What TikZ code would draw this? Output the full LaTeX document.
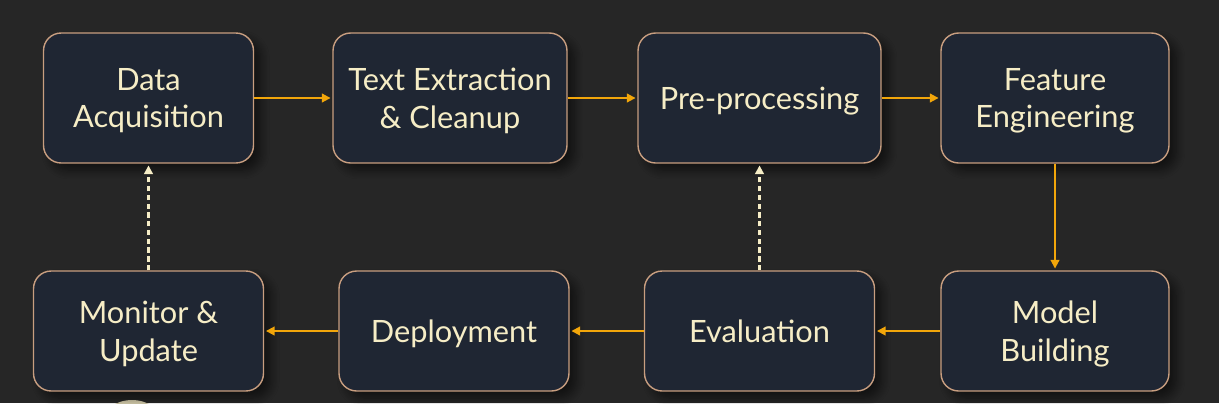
\documentclass[tikz,border=0pt]{standalone}
\usepackage{fontspec}
\setmainfont{Lato}
\usetikzlibrary{arrows.meta,shadows.blur}
\definecolor{bgdark}{HTML}{262626}
\definecolor{boxfill}{HTML}{1F2633}
\definecolor{boxline}{HTML}{C89E80}
\definecolor{cream}{HTML}{F6EDC6}
\definecolor{amber}{HTML}{F2A60A}
\tikzset{
  stage/.style={draw=boxline, line width=0.8pt, fill=boxfill, rounded corners=10pt,
    text=cream, align=center, font=\fontsize{17.5}{21.5}\selectfont,
    minimum width=4.6cm, minimum height=2.4cm, inner sep=0pt, text depth=0pt,
    blur shadow={shadow xshift=4pt, shadow yshift=-4pt, shadow blur radius=5pt,
      shadow blur steps=8, shadow opacity=55}},
  flow/.style={draw=amber, line width=1.1pt, -{Triangle[length=5pt,width=5pt]}, shorten >=1pt},
  feedback/.style={draw=cream, line width=1.2pt, dash pattern=on 3pt off 2pt,
    -{Triangle[length=5pt,width=5pt]}, shorten >=1pt}
}
\begin{document}
\begin{tikzpicture}[x=0.02cm, y=-0.02cm]
  \fill[bgdark] (0,0) rectangle (1219,403);
  \useasboundingbox (0,0) rectangle (1219,403);
  \begin{scope}
    \clip (0,0) rectangle (1219,403);
    \fill[cream!85!bgdark] (132,423) ellipse (30 and 23);
  \end{scope}
  \draw
    (148.5,98) node[stage, minimum width=4.2cm, minimum height=2.6cm] (da){Data\\Acquisition}
    (450,98) node[stage, minimum width=4.68cm, minimum height=2.6cm] (te){Text Extraction\\\& Cleanup}
    (759.5,98) node[stage, minimum width=4.86cm, minimum height=2.6cm] (pp){Pre-processing}
    (1055,98) node[stage, minimum width=4.56cm, minimum height=2.6cm] (fe){Feature\\Engineering}
    (1055,331) node[stage, minimum width=4.56cm] (mb){Model\\Building}
    (759.5,331) node[stage] (ev){Evaluation}
    (454,331) node[stage] (dp){Deployment}
    (148.5,331) node[stage] (mu){Monitor \&\\Update};
  \begin{scope}[flow]
    \draw (da) to (te);
    \draw (te) to (pp);
    \draw (pp) to (fe);
    \draw (fe) to (mb);
    \draw (mb) to (ev);
    \draw (ev) to (dp);
    \draw (dp) to (mu);
  \end{scope}
  \begin{scope}[feedback]
    \draw (mu) to (da);
    \draw (ev) to (pp);
  \end{scope}
\end{tikzpicture}
\end{document}
